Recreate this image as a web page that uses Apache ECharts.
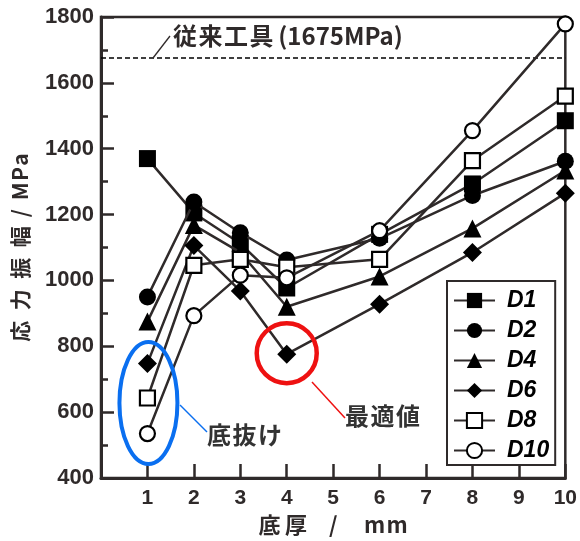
<!DOCTYPE html>
<html><head><meta charset="utf-8">
<script src="https://cdn.jsdelivr.net/npm/echarts@6/dist/echarts.min.js"></script>
<style>html,body{margin:0;padding:0;background:#fff}#c{width:580px;height:541px}</style>
</head><body><div id="c"></div>
<script>
const thickness = [1, 2, 3, 4, 6, 8, 10];
const D1  = [1370, 1205, 1112, 977, 1140, 1293, 1485];
const D2  = [950, 1238, 1145, 1062, 1128, 1258, 1362];
const D4  = [875, 1168, 1085, 920, 1012, 1158, 1334];
const D6  = [748, 1106, 968, 776, 928, 1085, 1265];
const D8  = [643, 1046, 1064, 1040, 1064, 1364, 1560];
const D10 = [535, 893, 1016, 1008, 1151, 1455, 1779];
const seriesNames = ['D1', 'D2', 'D4', 'D6', 'D8', 'D10'];
const conventional = 1675;
const yTicks = [400, 600, 800, 1000, 1200, 1400, 1600, 1800];
const xTicks = [1, 2, 3, 4, 5, 6, 7, 8, 9, 10];

const INK = '#2f2a2a';
const NUM = '"Liberation Sans", Arial, sans-serif';
const JP = '"Noto Sans CJK JP", sans-serif';
const values = [D1, D2, D4, D6, D8, D10];
const symbols = [
  {symbol: 'rect', size: 17, fill: '#000'},
  {symbol: 'circle', size: 17, fill: '#000'},
  {symbol: 'triangle', size: 18, fill: '#000'},
  {symbol: 'diamond', size: 19, fill: '#000'},
  {symbol: 'rect', size: 15, fill: '#fff'},
  {symbol: 'circle', size: 15, fill: '#fff'}
];

const chart = echarts.init(document.getElementById('c'), null, {renderer: 'canvas'});
const series = seriesNames.map((n, i) => ({
  name: n,
  type: 'line',
  data: thickness.map((x, j) => [x, values[i][j]]),
  symbol: symbols[i].symbol,
  symbolSize: symbols[i].size,
  lineStyle: {color: INK, width: 2.5},
  itemStyle: {color: symbols[i].fill, borderColor: '#000', borderWidth: symbols[i].fill === '#fff' ? 2.2 : 0},
  z: 3 + i,
  animation: false
}));
series[0].markLine = {
  silent: true, symbol: 'none', animation: false,
  label: {show: false},
  lineStyle: {type: [5, 3], color: '#000', width: 1.5},
  data: [{yAxis: conventional}]
};

chart.setOption({
  animation: false,
  grid: {left: 101, right: 12, top: 17, bottom: 58, show: true, borderColor: INK, borderWidth: 2.5},
  xAxis: {
    type: 'value', min: 0, max: 10, interval: 1,
    name: '底\u2009厚\u2003/\u2003\u2009m\u200Am', nameLocation: 'middle', nameGap: 36,
    nameTextStyle: {fontFamily: JP, fontWeight: 'bold', fontSize: 22, color: INK},
    axisLine: {show: true, lineStyle: {color: INK, width: 3}},
    axisTick: {show: true, inside: true, length: 14, lineStyle: {color: INK, width: 2.5}},
    axisLabel: {margin: 10, fontFamily: NUM, fontWeight: 'bold', fontSize: 21, color: INK,
      formatter: v => xTicks.includes(v) ? String(v) : ''},
    splitLine: {show: false}
  },
  yAxis: {
    type: 'value', min: 400, max: 1800, interval: 200,
    name: '応\u2002力\u2002振\u2002幅\u2009 / \u2009M\u200AP\u200Aa', nameLocation: 'middle', nameGap: 70, nameRotate: 90,
    nameTextStyle: {fontFamily: JP, fontWeight: 'bold', fontSize: 21, color: INK},
    axisLine: {show: true, lineStyle: {color: INK, width: 3}},
    axisTick: {show: true, inside: true, length: 13, lineStyle: {color: INK, width: 2.5}},
    minorTick: {show: true, splitNumber: 2, length: 7, lineStyle: {color: INK, width: 2.5}},
    axisLabel: {margin: 7, fontFamily: NUM, fontWeight: 'bold', fontSize: 22, color: INK,
      formatter: v => yTicks.includes(v) ? String(v) : ''},
    splitLine: {show: false}
  },
  legend: {
    orient: 'vertical', left: 447, top: 281,
    data: seriesNames,
    backgroundColor: '#fff', borderColor: INK, borderWidth: 2,
    padding: [8, 6, 3, 6], itemGap: 7, itemWidth: 41, itemHeight: 19,
    textStyle: {fontFamily: NUM, fontStyle: 'italic', fontWeight: 'bold', fontSize: 23, color: '#000', padding: [0, 0, 0, 7]}
  },
  series: series
});

const p1 = chart.convertToPixel({gridIndex: 0}, [1, (D8[0] + D10[0] + D6[0]) / 3]);
const p4 = chart.convertToPixel({gridIndex: 0}, [4, D6[3]]);
chart.setOption({
  graphic: [
    {type: 'text', left: 173, top: 24, z: 10,
      style: {text: '従\u200A来\u200A工\u200A具\u2009(1675MPa)', fontFamily: JP, fontWeight: 'bold', fontSize: 24, fill: INK}},
    {type: 'line', shape: {x1: 153, y1: 58, x2: 170, y2: 36}, style: {stroke: INK, lineWidth: 1.3}, z: 10},
    {type: 'ellipse', shape: {cx: p1[0] + 1, cy: 403, rx: 29, ry: 61}, style: {fill: 'none', stroke: '#0a6ff0', lineWidth: 4}, z: 10},
    {type: 'line', shape: {x1: 180, y1: 405, x2: 207, y2: 432}, style: {stroke: '#0a6ff0', lineWidth: 1.5}, z: 10},
    {type: 'text', left: 207, top: 423, z: 10,
      style: {text: '底\u200A抜\u200Aけ', fontFamily: JP, fontWeight: 'bold', fontSize: 24, fill: '#333'}},
    {type: 'circle', shape: {cx: p4[0], cy: p4[1] - 1, r: 30}, style: {fill: 'none', stroke: '#ee1111', lineWidth: 4.5}, z: 10},
    {type: 'line', shape: {x1: 312, y1: 382, x2: 345, y2: 418}, style: {stroke: '#ee1111', lineWidth: 1.5}, z: 10},
    {type: 'text', left: 345, top: 404, z: 10,
      style: {text: '最\u200A適\u200A値', fontFamily: JP, fontWeight: 'bold', fontSize: 24, fill: '#333'}}
  ]
});
</script></body></html>
